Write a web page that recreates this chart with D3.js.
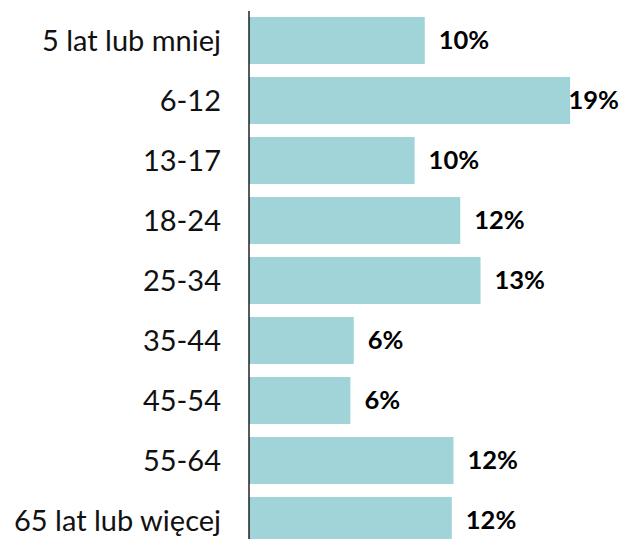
<!DOCTYPE html>
<html><head><meta charset="utf-8">
<script src="https://cdn.jsdelivr.net/npm/d3@7"></script>
<style>body{margin:0;background:#fff}svg{display:block}</style>
</head><body>
<script>
const categories = ["5 lat lub mniej","6-12","13-17","18-24","25-34","35-44","45-54","55-64","65 lat lub więcej"];
const values = [10.4, 19.0, 9.8, 12.5, 13.7, 6.2, 6.0, 12.1, 12.0];
const valueLabels = ["10%","19%","10%","12%","13%","6%","6%","12%","12%"];

const W = 623, H = 539;
const svg = d3.select("body").append("svg").attr("width", W).attr("height", H);
const x = d3.scaleLinear().domain([0, 20]).range([249, 587]);
const y = d3.scaleBand().domain(categories).range([10.5, 550.5]).paddingInner(0.217).paddingOuter(0.1085);

svg.selectAll("rect.bar").data(values).join("rect").attr("class","bar")
  .attr("x", x(0)).attr("y", (d,i)=>y(categories[i]))
  .attr("width", d=>x(d)-x(0)).attr("height", y.bandwidth())
  .attr("fill", "#a0d4d8");

svg.append("line").attr("x1", x(0)).attr("x2", x(0)).attr("y1", 11).attr("y2", H)
  .attr("stroke", "#000").attr("stroke-width", 1.3);

svg.selectAll("text.cat").data(categories).join("text").attr("class","cat")
  .attr("x", 221).attr("y", d=>y(d)+y.bandwidth()/2).attr("dy","0.35em")
  .attr("text-anchor","end").attr("font-family","Lato, 'Open Sans', sans-serif")
  .attr("font-size", 29).attr("fill","#111").text(d=>d);

const vl = svg.selectAll("text.val").data(values).join("text").attr("class","val")
  .attr("y", (d,i)=>y(categories[i])+y.bandwidth()/2).attr("dy","0.35em")
  .attr("font-family","Lato, 'Open Sans', sans-serif").attr("font-weight","bold")
  .attr("font-size", 25.5).attr("fill","#000").text((d,i)=>valueLabels[i]);
vl.each(function(d){
  const w = this.getComputedTextLength();
  d3.select(this).attr("x", Math.min(x(d)+14, W - 4 - w));
});
</script>
</body></html>
